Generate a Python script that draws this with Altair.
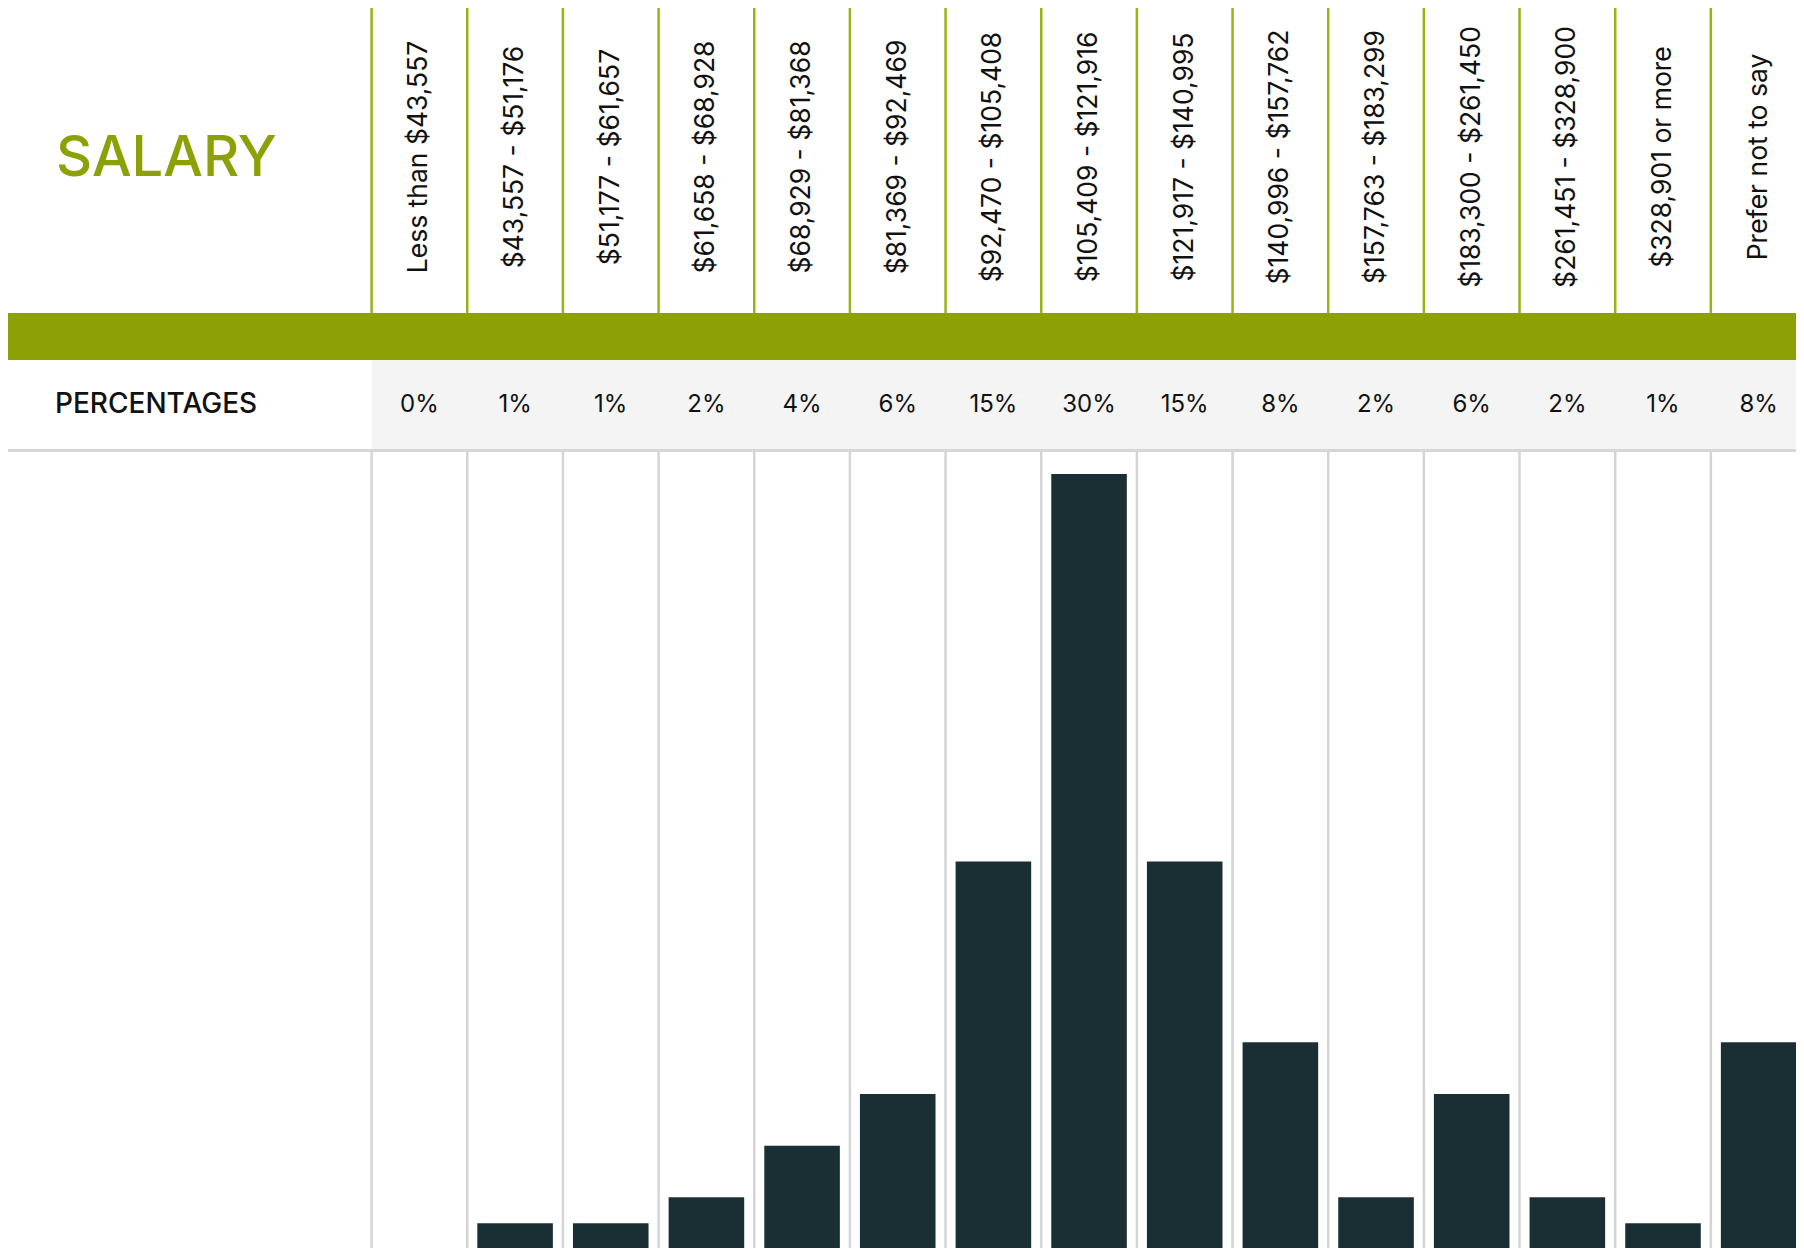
import altair as alt
import pandas as pd

categories = [
    "Less than $43,557", "$43,557 - $51,176", "$51,177 - $61,657",
    "$61,658 - $68,928", "$68,929 - $81,368", "$81,369 - $92,469",
    "$92,470 - $105,408", "$105,409 - $121,916", "$121,917 - $140,995",
    "$140,996 - $157,762", "$157,763 - $183,299", "$183,300 - $261,450",
    "$261,451 - $328,900", "$328,901 or more", "Prefer not to say",
]
percentages = [0, 1, 1, 2, 4, 6, 15, 30, 15, 8, 2, 6, 2, 1, 8]
title_text = "SALARY"
row_label = "PERCENTAGES"

df = pd.DataFrame({
    "category": categories,
    "pct": percentages,
    "pct_label": [f"{p}%" for p in percentages],
})
one = pd.DataFrame({"k": [0]})

FONT = "Inter"
GREEN = "#8da106"
W, H = 1788, 1240

xscale = alt.Scale(domain=categories, range=[363.6, 1798.5], paddingInner=0, paddingOuter=0)
X = alt.X("category:N", scale=xscale, axis=None, sort=categories)
Xstart = alt.X("category:N", scale=xscale, axis=None, sort=categories, bandPosition=0)

base = alt.Chart(df)
deco = alt.Chart(one)

green_band = deco.mark_rect(color=GREEN).encode(
    x=alt.value(0), x2=alt.value(W), y=alt.value(305), y2=alt.value(352))
pct_bg = deco.mark_rect(color="#f4f4f4").encode(
    x=alt.value(363.6), x2=alt.value(W), y=alt.value(352), y2=alt.value(442))
pct_line = deco.mark_rule(color="#d6d6d6", strokeWidth=3).encode(
    x=alt.value(0), x2=alt.value(W), y=alt.value(442.5))

head_div = base.mark_rule(color="#9cb112", strokeWidth=2.5).encode(
    x=Xstart, y=alt.value(0), y2=alt.value(305))
body_div = base.mark_rule(color="#d4d4d4", strokeWidth=2.5).encode(
    x=Xstart, y=alt.value(444), y2=alt.value(H))

bars = base.mark_bar(width=alt.RelativeBandSize(0.79), color="#1a2f34").encode(
    x=X,
    y=alt.Y("pct:Q", scale=alt.Scale(domain=[0, 30], range=[1241, 466]), axis=None),
)

cat_labels = base.mark_text(angle=270, align="center", baseline="middle",
                            font=FONT, fontSize=26.5, color="#111111").encode(
    x=X, y=alt.value(149), text="category:N")
pct_labels = base.mark_text(align="center", baseline="middle",
                            font=FONT, fontSize=24, color="#111111").encode(
    x=X, y=alt.value(397), text="pct_label:N")

title = deco.mark_text(align="left", baseline="middle", font=FONT, fontSize=56,
                       fontWeight=500, color=GREEN).encode(
    x=alt.value(48), y=alt.value(151), text=alt.value(title_text))
row_title = deco.mark_text(align="left", baseline="middle", font=FONT, fontSize=28,
                           fontWeight=500, color="#111111").encode(
    x=alt.value(47), y=alt.value(397), text=alt.value(row_label))

chart = alt.layer(
    green_band, pct_bg, pct_line, head_div, body_div, bars,
    cat_labels, pct_labels, title, row_title,
).properties(
    width=W, height=H,
    autosize=alt.AutoSizeParams(type="none"),
    padding=0,
).configure_view(stroke=None)

chart.save("out.html", embed_options={"renderer": "svg", "actions": False})
